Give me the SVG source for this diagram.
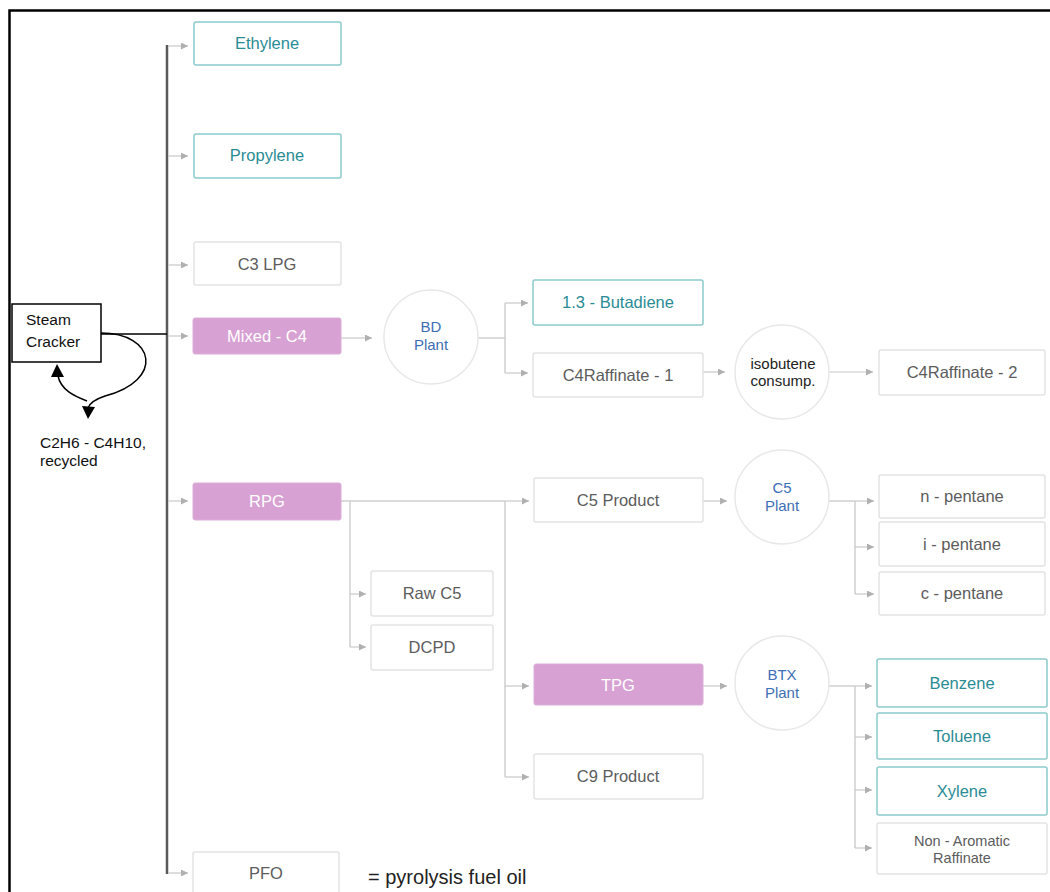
<svg xmlns="http://www.w3.org/2000/svg" width="1050" height="892" viewBox="0 0 1050 892">
<defs>
<marker id="a" markerUnits="userSpaceOnUse" markerWidth="8" markerHeight="8" refX="7" refY="3.5" orient="auto"><path d="M0,0 L7,3.5 L0,7 z" fill="#b0b0b0"/></marker>
<style>
text{font-family:"Liberation Sans",Arial,sans-serif;text-anchor:middle}
.t rect{fill:#fff;stroke:#8ccacd;stroke-width:1.5}
.t text{fill:#2a8c95;font-size:16.5px}
.g rect{fill:#fff;stroke:#e3e3e3;stroke-width:1.5}
.g text{fill:#5c5c5c;font-size:16.5px}
.p rect{fill:#d7a1d3;stroke:#dcaed8;stroke-width:1}
.p text{fill:#fff;font-size:16.5px}
.c circle{fill:#fff;stroke:#e8e8e8;stroke-width:1.5}
.c text{fill:#3d6fb5;font-size:15px}
.k text{fill:#222;font-size:15px}
.ln{fill:none;stroke:#cfcfcf;stroke-width:1.5}
.ar{fill:none;stroke:#c8c8c8;stroke-width:1.2;marker-end:url(#a)}
.blk{fill:none;stroke:#000;stroke-width:1.5}
.lab{fill:#111;font-size:15.5px;text-anchor:start}
</style>
</defs>
<rect width="1050" height="892" fill="#fff"/>
<path d="M9.5,892 V10.5 H1050" fill="none" stroke="#000" stroke-width="2.5"/>

<g id="connectors">
<line x1="167" y1="45" x2="167" y2="874" stroke="#5a5a5a" stroke-width="2.5"/>
<path class="blk" d="M101,334 H167"/>
<path class="ar" d="M168,46 H188"/>
<path class="ar" d="M168,156 H188"/>
<path class="ar" d="M168,265 H188"/>
<path class="ar" d="M168,336 H188"/>
<path class="ar" d="M168,501 H188"/>
<path class="ar" d="M168,873 H188"/>
<path class="ar" d="M341,338 H372"/>
<path class="ln" d="M478,338 H505 M505,303 V373"/>
<path class="ar" d="M505,303 H528"/>
<path class="ar" d="M505,373 H528"/>
<path class="ar" d="M703,372 H725"/>
<path class="ar" d="M829,372 H873"/>
<path class="ln" d="M341,501 H505 M505,501 V777 M350,501 V647"/>
<path class="ar" d="M350,594 H366"/>
<path class="ar" d="M350,647 H366"/>
<path class="ar" d="M505,501 H529"/>
<path class="ar" d="M505,686 H529"/>
<path class="ar" d="M505,777 H529"/>
<path class="ar" d="M703,501 H727"/>
<path class="ln" d="M829,501 H855 M855,501 V594"/>
<path class="ar" d="M855,501 H874"/>
<path class="ar" d="M855,547 H874"/>
<path class="ar" d="M855,594 H874"/>
<path class="ar" d="M703,686 H727"/>
<path class="ln" d="M829,686 H855 M855,686 V848"/>
<path class="ar" d="M855,686 H872"/>
<path class="ar" d="M855,737 H872"/>
<path class="ar" d="M855,790 H872"/>
<path class="ar" d="M855,848 H872"/>
<path class="blk" d="M101,333 C155,333 165,380 105,396 C96,399 90,402 88,408"/>
<polygon points="82,406 95,407 88,419" fill="#000"/>
<path class="blk" d="M87,401 C74,396 61,390 58,376"/>
<polygon points="51,377 64,377 57,364" fill="#000"/>
</g>

<g id="steam-cracker">
<rect x="12" y="304" width="89" height="58" fill="#fff" stroke="#000" stroke-width="1.5"/>
<text class="lab" x="26" y="325" style="fill:#111">Steam</text>
<text class="lab" x="26" y="347" style="fill:#111">Cracker</text>
</g>
<g id="recycle-label">
<text class="lab" x="40" y="448">C2H6 - C4H10,</text>
<text class="lab" x="40" y="466">recycled</text>
</g>

<g id="ethylene" class="t"><rect x="194" y="22" width="147" height="43" rx="2"/><text x="267" y="49">Ethylene</text></g>
<g id="propylene" class="t"><rect x="194" y="134" width="147" height="44" rx="2"/><text x="267" y="161">Propylene</text></g>
<g id="c3lpg" class="g"><rect x="194" y="242" width="147" height="43" rx="2"/><text x="267" y="270">C3 LPG</text></g>
<g id="mixed-c4" class="p"><rect x="193" y="318" width="148" height="36" rx="2"/><text x="267" y="342">Mixed - C4</text></g>
<g id="rpg" class="p"><rect x="193" y="483" width="148" height="37" rx="2"/><text x="267" y="507">RPG</text></g>
<g id="pfo" class="g"><rect x="193" y="852" width="146" height="50" rx="2"/><text x="266" y="879">PFO</text></g>
<g id="pfo-note"><text x="368" y="884" style="font-size:20px;fill:#222;text-anchor:start">= pyrolysis fuel oil</text></g>

<g id="bd-plant" class="c"><circle cx="431" cy="337" r="47"/><text x="431" y="332">BD</text><text x="431" y="350">Plant</text></g>
<g id="butadiene" class="t"><rect x="533" y="280" width="170" height="45" rx="2"/><text x="618" y="308">1.3 - Butadiene</text></g>
<g id="c4raff1" class="g"><rect x="533" y="353" width="170" height="44" rx="2"/><text x="618" y="381">C4Raffinate - 1</text></g>
<g id="isobutene" class="c k"><circle cx="782" cy="372" r="47"/><text x="783" y="369">isobutene</text><text x="783" y="386">consump.</text></g>
<g id="c4raff2" class="g"><rect x="879" y="350" width="166" height="45" rx="2"/><text x="962" y="378">C4Raffinate - 2</text></g>

<g id="c5product" class="g"><rect x="534" y="478" width="169" height="44" rx="2"/><text x="618" y="506">C5 Product</text></g>
<g id="rawc5" class="g"><rect x="371" y="571" width="122" height="45" rx="2"/><text x="432" y="599">Raw C5</text></g>
<g id="dcpd" class="g"><rect x="371" y="625" width="122" height="45" rx="2"/><text x="432" y="653">DCPD</text></g>
<g id="c5plant" class="c"><circle cx="782" cy="497" r="47"/><text x="782" y="493">C5</text><text x="782" y="511">Plant</text></g>
<g id="npentane" class="g"><rect x="879" y="475" width="166" height="43" rx="2"/><text x="962" y="502">n - pentane</text></g>
<g id="ipentane" class="g"><rect x="879" y="522" width="166" height="44" rx="2"/><text x="962" y="550">i - pentane</text></g>
<g id="cpentane" class="g"><rect x="879" y="572" width="166" height="43" rx="2"/><text x="962" y="599">c - pentane</text></g>

<g id="tpg" class="p"><rect x="534" y="664" width="169" height="41" rx="2"/><text x="618" y="691">TPG</text></g>
<g id="c9product" class="g"><rect x="534" y="754" width="169" height="45" rx="2"/><text x="618" y="782">C9 Product</text></g>
<g id="btx-plant" class="c"><circle cx="782" cy="683" r="47"/><text x="782" y="680">BTX</text><text x="782" y="698">Plant</text></g>
<g id="benzene" class="t"><rect x="877" y="659" width="170" height="48" rx="2"/><text x="962" y="689">Benzene</text></g>
<g id="toluene" class="t"><rect x="877" y="713" width="170" height="46" rx="2"/><text x="962" y="742">Toluene</text></g>
<g id="xylene" class="t"><rect x="877" y="767" width="170" height="48" rx="2"/><text x="962" y="797">Xylene</text></g>
<g id="nonaromatic" class="g"><rect x="877" y="823" width="170" height="51" rx="2"/><text x="962" y="846" style="font-size:14.5px">Non - Aromatic</text><text x="962" y="863" style="font-size:14.5px">Raffinate</text></g>
</svg>
